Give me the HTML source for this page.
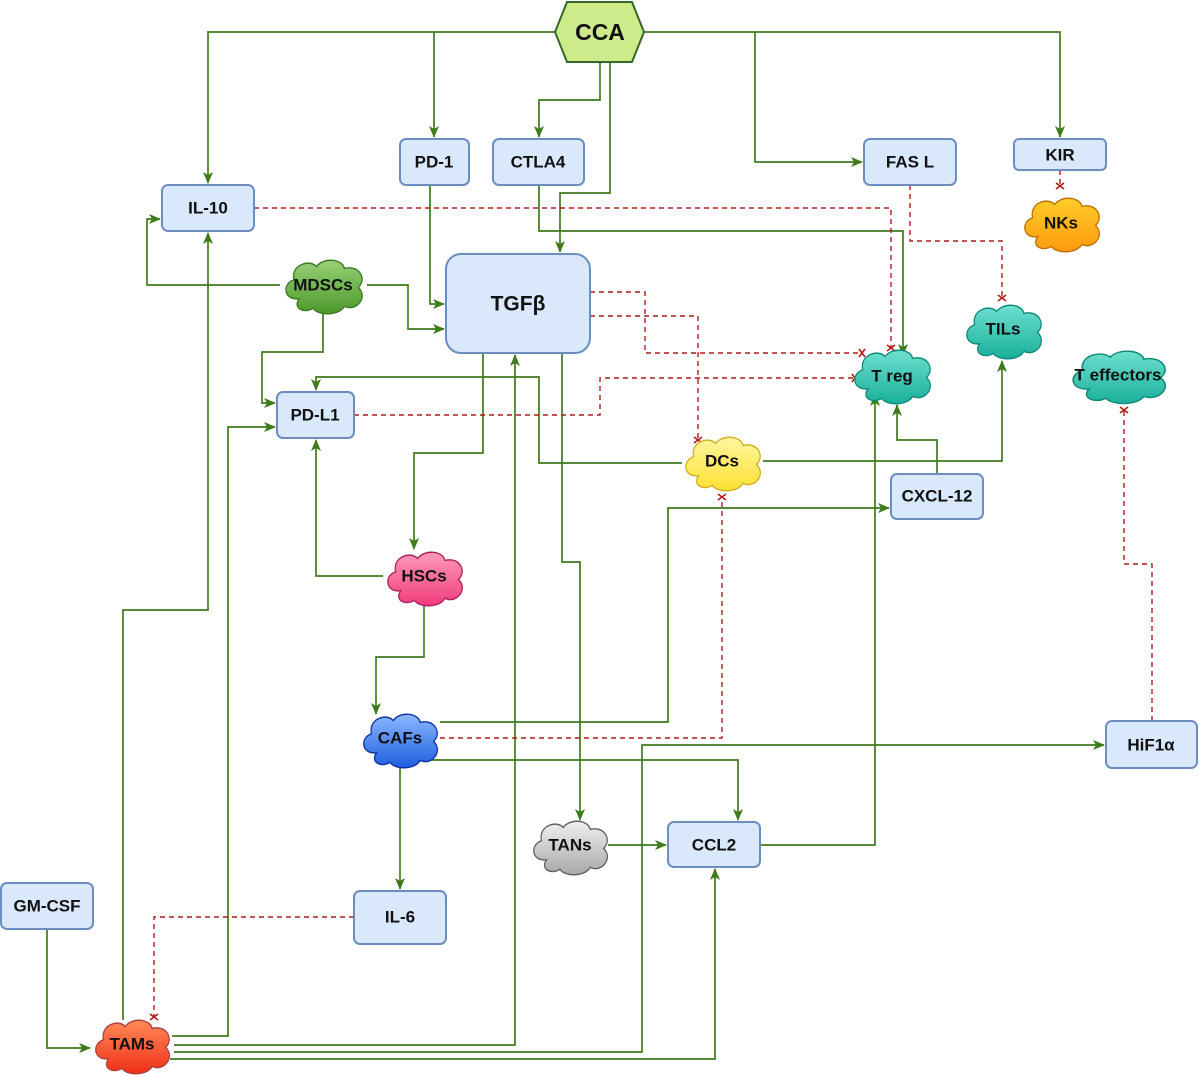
<!DOCTYPE html>
<html><head><meta charset="utf-8"><style>
html,body{margin:0;padding:0;background:#fff;}
svg{display:block;}
text{font-family:"Liberation Sans",Arial,sans-serif;font-weight:bold;fill:#111;text-anchor:middle;dominant-baseline:central;}
</style></head><body>
<svg width="1200" height="1077" viewBox="0 0 1200 1077" xmlns="http://www.w3.org/2000/svg">
<defs>
<marker id="a" markerWidth="12" markerHeight="12" refX="11" refY="6" orient="auto" markerUnits="userSpaceOnUse"><path d="M0,1 L12,6 L0,11 L3,6 z" fill="#3f7a1c"/></marker>
<marker id="x" markerWidth="10" markerHeight="10" refX="5" refY="5" orient="auto" markerUnits="userSpaceOnUse"><path d="M2,1 L8,9 M8,1 L2,9" stroke="#b01c1c" stroke-width="1.6"/></marker>
<linearGradient id="gG" x1="0" y1="0" x2="0" y2="1"><stop offset="0" stop-color="#97d077"/><stop offset="1" stop-color="#4c9a2a"/></linearGradient>
<linearGradient id="gO" x1="0" y1="0" x2="0" y2="1"><stop offset="0" stop-color="#ffcd28"/><stop offset="1" stop-color="#ff9a10"/></linearGradient>
<linearGradient id="gT" x1="0" y1="0" x2="0" y2="1"><stop offset="0" stop-color="#6fe0d0"/><stop offset="1" stop-color="#18b09a"/></linearGradient>
<linearGradient id="gY" x1="0" y1="0" x2="0" y2="1"><stop offset="0" stop-color="#fff6a0"/><stop offset="1" stop-color="#ffe030"/></linearGradient>
<linearGradient id="gP" x1="0" y1="0" x2="0" y2="1"><stop offset="0" stop-color="#ff9ab8"/><stop offset="1" stop-color="#f03c7c"/></linearGradient>
<linearGradient id="gB" x1="0" y1="0" x2="0" y2="1"><stop offset="0" stop-color="#8cb8ff"/><stop offset="1" stop-color="#1c5ee0"/></linearGradient>
<linearGradient id="gS" x1="0" y1="0" x2="0" y2="1"><stop offset="0" stop-color="#f0f0f0"/><stop offset="1" stop-color="#a8a8a8"/></linearGradient>
<linearGradient id="gR" x1="0" y1="0" x2="0" y2="1"><stop offset="0" stop-color="#ff8a5a"/><stop offset="1" stop-color="#f03018"/></linearGradient>
<path id="cl" d="M22,44 C4,46 2,28 16,24 C12,8 34,2 42,10 C50,0 72,2 74,12 C92,8 100,24 90,32 C102,42 88,58 74,52 C68,62 44,62 38,54 C28,60 14,54 22,44 z"/>
</defs>
<g fill="none" stroke="#3f7a1c" stroke-width="1.7">
<path d="M555,32 H208 V183" marker-end="url(#a)"/>
<path d="M434,32 V137" marker-end="url(#a)"/>
<path d="M600,62 V100 H539 V137" marker-end="url(#a)"/>
<path d="M610,62 V193 H560 V252" marker-end="url(#a)"/>
<path d="M644,32 H1060 V137" marker-end="url(#a)"/>
<path d="M755,32 V162 H862" marker-end="url(#a)"/>
<path d="M539,185 V231 H903 V355" marker-end="url(#a)"/>
<path d="M430,185 V304 H444" marker-end="url(#a)"/>
<path d="M367,285 H408 V329 H444" marker-end="url(#a)"/>
<path d="M280,285 H147 V219 H160" marker-end="url(#a)"/>
<path d="M323,312 V352 H262 V403 H275" marker-end="url(#a)"/>
<path d="M682,463 H539 V377 H316 V390" marker-end="url(#a)"/>
<path d="M763,461 H1002 V361" marker-end="url(#a)"/>
<path d="M483,353 V453 H414 V549" marker-end="url(#a)"/>
<path d="M562,353 V562 H580 V820" marker-end="url(#a)"/>
<path d="M123,1020 V610 H208 V233" marker-end="url(#a)"/>
<path d="M172,1036 H228 V427 H275" marker-end="url(#a)"/>
<path d="M174,1045 H515 V355" marker-end="url(#a)"/>
<path d="M174,1052 H642 V745 H1104" marker-end="url(#a)"/>
<path d="M170,1059 H715 V869" marker-end="url(#a)"/>
<path d="M383,576 H316 V440" marker-end="url(#a)"/>
<path d="M424,605 V657 H376 V714" marker-end="url(#a)"/>
<path d="M440,722 H668 V508 H889" marker-end="url(#a)"/>
<path d="M430,760 H738 V820" marker-end="url(#a)"/>
<path d="M400,766 V889" marker-end="url(#a)"/>
<path d="M608,845 H666" marker-end="url(#a)"/>
<path d="M760,845 H875 V395" marker-end="url(#a)"/>
<path d="M937,474 V440 H897 V405" marker-end="url(#a)"/>
<path d="M47,929 V1048 H90" marker-end="url(#a)"/>
</g>
<g fill="none" stroke="#b01c1c" stroke-width="1.4" stroke-dasharray="5,4">
<path d="M254,208 H891 V348" marker-end="url(#x)"/>
<path d="M590,292 H645 V353 H862" marker-end="url(#x)"/>
<path d="M590,316 H698 V440" marker-end="url(#x)"/>
<path d="M354,415 H600 V378 H855" marker-end="url(#x)"/>
<path d="M910,185 V241 H1002 V298" marker-end="url(#x)"/>
<path d="M1060,170 V186" marker-end="url(#x)"/>
<path d="M440,738 H722 V497" marker-end="url(#x)"/>
<path d="M1152,721 V564 H1124 V410" marker-end="url(#x)"/>
<path d="M354,917 H154 V1017" marker-end="url(#x)"/>
</g>
<polygon points="567,2 632,2 644,32 632,62 567,62 555,32" fill="#cdeb8b" stroke="#36682b" stroke-width="2"/>
<text x="600" y="32" font-size="23">CCA</text>
<g fill="#dae8fc" stroke="#6c8ebf" stroke-width="2">
<rect x="400" y="139" width="69" height="46" rx="6"/>
<rect x="493" y="139" width="91" height="46" rx="6"/>
<rect x="162" y="185" width="92" height="46" rx="6"/>
<rect x="864" y="139" width="92" height="46" rx="6"/>
<rect x="1014" y="139" width="92" height="31" rx="5"/>
<rect x="446" y="254" width="144" height="99" rx="15"/>
<rect x="277" y="392" width="77" height="46" rx="6"/>
<rect x="891" y="474" width="92" height="45" rx="6"/>
<rect x="1106" y="721" width="91" height="47" rx="6"/>
<rect x="668" y="822" width="92" height="45" rx="6"/>
<rect x="354" y="891" width="92" height="53" rx="6"/>
<rect x="1" y="883" width="92" height="46" rx="6"/>
</g>
<g font-size="17">
<text x="434" y="162">PD-1</text>
<text x="538" y="162">CTLA4</text>
<text x="208" y="208">IL-10</text>
<text x="910" y="162">FAS L</text>
<text x="1060" y="155">KIR</text>
<text x="518" y="304" font-size="21">TGFβ</text>
<text x="315" y="415">PD-L1</text>
<text x="937" y="496">CXCL-12</text>
<text x="1151" y="745">HiF1α</text>
<text x="714" y="845">CCL2</text>
<text x="400" y="917">IL-6</text>
<text x="47" y="906">GM-CSF</text>
</g>
<g stroke-width="1.5">
<use href="#cl" transform="translate(280,257) scale(0.87,0.95)" fill="url(#gG)" stroke="#3d7a25"/>
<use href="#cl" transform="translate(1019,195) scale(0.85,0.95)" fill="url(#gO)" stroke="#c07000"/>
<use href="#cl" transform="translate(961,302) scale(0.85,0.95)" fill="url(#gT)" stroke="#0e8a78"/>
<use href="#cl" transform="translate(849,347) scale(0.86,0.95)" fill="url(#gT)" stroke="#0e8a78"/>
<use href="#cl" transform="translate(1066,348) scale(1.05,0.93)" fill="url(#gT)" stroke="#0e8a78"/>
<use href="#cl" transform="translate(680,434) scale(0.85,0.95)" fill="url(#gY)" stroke="#d0b020"/>
<use href="#cl" transform="translate(382,549) scale(0.85,0.95)" fill="url(#gP)" stroke="#b02060"/>
<use href="#cl" transform="translate(358,711) scale(0.84,0.95)" fill="url(#gB)" stroke="#1030a0"/>
<use href="#cl" transform="translate(528,818) scale(0.84,0.95)" fill="url(#gS)" stroke="#606060"/>
<use href="#cl" transform="translate(90,1017) scale(0.84,0.95)" fill="url(#gR)" stroke="#b04040"/>
</g>
<g font-size="17">
<text x="323" y="285">MDSCs</text>
<text x="1061" y="223">NKs</text>
<text x="1003" y="329">TILs</text>
<text x="892" y="376">T reg</text>
<text x="1118" y="375">T effectors</text>
<text x="722" y="461">DCs</text>
<text x="424" y="576">HSCs</text>
<text x="400" y="738">CAFs</text>
<text x="570" y="845">TANs</text>
<text x="132" y="1044">TAMs</text>
</g>
</svg>
</body></html>
